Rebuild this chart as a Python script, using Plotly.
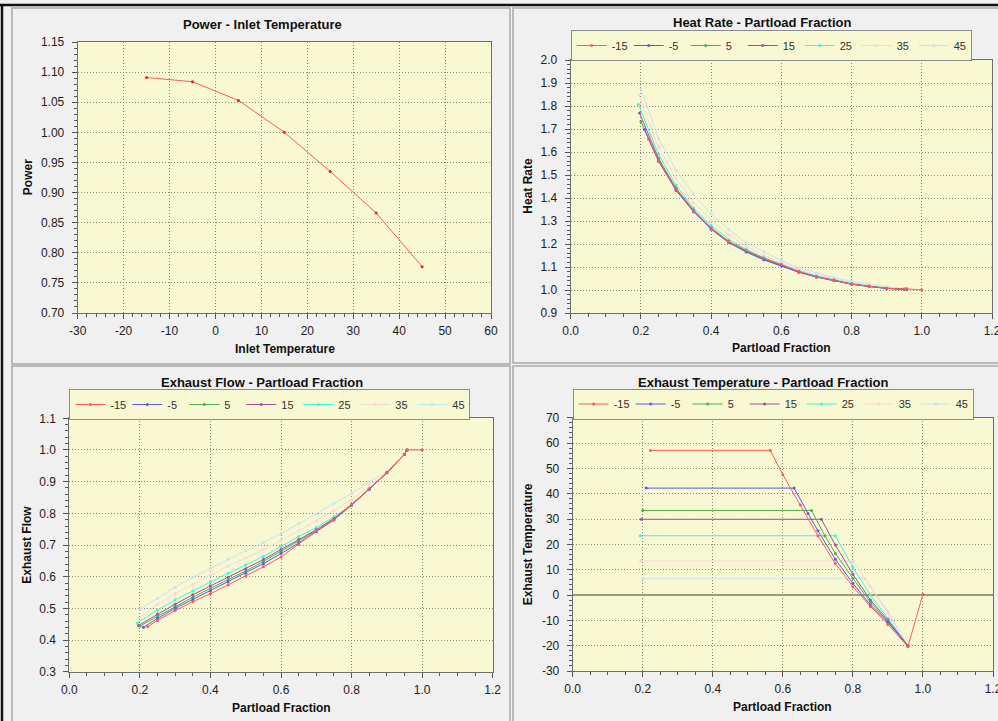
import plotly.graph_objects as go

W, H = 998, 721

# ---------------- data ----------------
series_labels = ["-15", "-5", "5", "15", "25", "35", "45"]
series_colors = ["#ff5a5a", "#5a5aee", "#4caf4c", "#a050a0", "#3ff5dc", "#ffd2da", "#c6e4ef"]

# Power vs inlet temperature
inlet_temp = [-15, -5, 5, 15, 25, 35, 45]
power = [1.091, 1.084, 1.053, 1.000, 0.935, 0.866, 0.777]

# shared partload grid (start point per series is prepended, full-load point appended)
load_grid = [0.25, 0.30, 0.35, 0.40, 0.45, 0.50, 0.55, 0.60, 0.65, 0.70, 0.75, 0.80, 0.85, 0.90, 0.95]
start_load = [0.222, 0.210, 0.200, 0.196, 0.193, 0.194, 0.200]
full_load = 0.957
rated_load = 1.0

# Heat rate (start, grid..., full load [, rated for -15])
hr_m15 = [1.655, 1.563, 1.437, 1.344, 1.268, 1.210, 1.172, 1.138, 1.111, 1.080, 1.058, 1.042, 1.026, 1.016, 1.008, 1.004, 1.005, 1.000]
hr_m5 = [1.698, 1.560, 1.433, 1.340, 1.264, 1.206, 1.165, 1.131, 1.104, 1.077, 1.056, 1.041, 1.025, 1.015, 1.007, 1.003, 1.003]
hr_5 = [1.733, 1.566, 1.438, 1.344, 1.267, 1.209, 1.168, 1.133, 1.106, 1.078, 1.057, 1.042, 1.026, 1.016, 1.007, 1.003, 1.003]
hr_15 = [1.770, 1.572, 1.442, 1.347, 1.270, 1.211, 1.170, 1.135, 1.107, 1.079, 1.058, 1.042, 1.026, 1.016, 1.007, 1.003, 1.003]
hr_25 = [1.807, 1.590, 1.455, 1.356, 1.280, 1.220, 1.177, 1.141, 1.111, 1.083, 1.061, 1.045, 1.028, 1.017, 1.008, 1.003, 1.003]
hr_35 = [1.848, 1.620, 1.485, 1.380, 1.303, 1.240, 1.190, 1.152, 1.118, 1.088, 1.066, 1.048, 1.032, 1.020, 1.010, 1.004, 1.003]
hr_45 = [1.874, 1.659, 1.521, 1.415, 1.331, 1.263, 1.206, 1.166, 1.128, 1.096, 1.074, 1.054, 1.038, 1.026, 1.015, 1.006, 1.004]

# Exhaust flow (start, grid..., full load [, rated for -15])
ef_m15 = [0.442, 0.462, 0.493, 0.521, 0.546, 0.574, 0.601, 0.631, 0.662, 0.702, 0.744, 0.780, 0.828, 0.877, 0.929, 0.986, 1.000, 1.000]
ef_m5 = [0.440, 0.468, 0.500, 0.528, 0.555, 0.583, 0.611, 0.641, 0.673, 0.706, 0.742, 0.779, 0.826, 0.876, 0.928, 0.986, 1.000]
ef_5 = [0.444, 0.475, 0.506, 0.535, 0.563, 0.590, 0.618, 0.648, 0.680, 0.711, 0.745, 0.781, 0.826, 0.876, 0.928, 0.986, 1.000]
ef_15 = [0.446, 0.482, 0.513, 0.543, 0.571, 0.598, 0.625, 0.654, 0.686, 0.717, 0.748, 0.784, 0.827, 0.877, 0.928, 0.986, 1.000]
ef_25 = [0.454, 0.495, 0.527, 0.555, 0.584, 0.611, 0.637, 0.664, 0.695, 0.727, 0.755, 0.789, 0.826, 0.877, 0.929, 0.987, 1.000]
ef_35 = [0.468, 0.512, 0.547, 0.576, 0.605, 0.633, 0.659, 0.686, 0.714, 0.745, 0.776, 0.809, 0.843, 0.885, 0.930, 0.988, 1.000]
ef_45 = [0.497, 0.532, 0.567, 0.598, 0.626, 0.656, 0.682, 0.708, 0.736, 0.767, 0.798, 0.831, 0.863, 0.898, 0.932, 0.989, 1.000]

# Exhaust temperature (own load points per series)
et_x_m15 = [0.222, 0.564, 0.60, 0.65, 0.70, 0.75, 0.80, 0.85, 0.90, 0.957, 1.0]
et_y_m15 = [57.1, 57.1, 47.5, 35.5, 23.4, 12.4, 3.3, -4.5, -11.6, -20.4, 0.3]
et_x_m5 = [0.210, 0.632, 0.672, 0.70, 0.75, 0.80, 0.85, 0.90, 0.957]
et_y_m5 = [42.2, 42.2, 32.2, 25.4, 14.1, 4.6, -4.0, -10.8, -20.0]
et_x_5 = [0.200, 0.682, 0.72, 0.75, 0.80, 0.85, 0.90, 0.957]
et_y_5 = [33.4, 33.4, 23.4, 16.4, 6.6, -2.9, -10.5, -20.0]
et_x_15 = [0.196, 0.710, 0.75, 0.80, 0.85, 0.90, 0.957]
et_y_15 = [29.9, 29.9, 19.7, 8.2, -2.0, -9.9, -20.0]
et_x_25 = [0.193, 0.750, 0.80, 0.85, 0.90, 0.957]
et_y_25 = [23.4, 23.4, 10.9, 0.0, -9.2, -20.0]
et_x_35 = [0.194, 0.800, 0.85, 0.90, 0.957]
et_y_35 = [13.4, 13.4, 3.3, -7.2, -20.0]
et_x_45 = [0.200, 0.834, 0.90, 0.957]
et_y_45 = [6.6, 6.6, -6.5, -20.0]

# tick values and labels
temp_ticks = [-30, -20, -10, 0, 10, 20, 30, 40, 50, 60]
temp_tick_text = ["-30", "-20", "-10", "0", "10", "20", "30", "40", "50", "60"]
power_ticks = [0.70, 0.75, 0.80, 0.85, 0.90, 0.95, 1.00, 1.05, 1.10, 1.15]
power_tick_text = ["0.70", "0.75", "0.80", "0.85", "0.90", "0.95", "1.00", "1.05", "1.10", "1.15"]
load_ticks = [0.0, 0.2, 0.4, 0.6, 0.8, 1.0, 1.2]
load_tick_text = ["0.0", "0.2", "0.4", "0.6", "0.8", "1.0", "1.2"]
hr_ticks = [0.9, 1.0, 1.1, 1.2, 1.3, 1.4, 1.5, 1.6, 1.7, 1.8, 1.9, 2.0]
hr_tick_text = ["0.9", "1.0", "1.1", "1.2", "1.3", "1.4", "1.5", "1.6", "1.7", "1.8", "1.9", "2.0"]
ef_ticks = [0.3, 0.4, 0.5, 0.6, 0.7, 0.8, 0.9, 1.0, 1.1]
ef_tick_text = ["0.3", "0.4", "0.5", "0.6", "0.7", "0.8", "0.9", "1.0", "1.1"]
et_ticks = [-30, -20, -10, 0, 10, 20, 30, 40, 50, 60, 70]
et_tick_text = ["-30", "-20", "-10", "0", "10", "20", "30", "40", "50", "60", "70"]

# ---------------- helpers ----------------
def px(x):
    return x / W


def py(y):
    return 1 - y / H


FONT = "Liberation Sans, Arial, sans-serif"
PLOT_BG = "#f8f8d2"
PAGE_BG = "#f0f0f0"


def load_x(i):
    xs = [start_load[i]] + load_grid + [full_load]
    if i == 0:
        xs = xs + [rated_load]
    return xs


def axis(domain, rng, tickvals, ticktext, minor, anchor, label_gap):
    return dict(
        domain=domain, range=rng, autorange=False, automargin=False,
        tickmode="array", tickvals=tickvals, ticktext=ticktext,
        ticklabeloverflow="allow",
        showgrid=True, gridcolor="#8a8a7a", griddash="1px,2px", gridwidth=1,
        showline=True, linecolor="#6e6e6e", linewidth=1, mirror=True,
        ticks="outside", ticklen=5, tickcolor="#555555", tickwidth=1,
        ticklabelstandoff=label_gap,
        minor=dict(tickmode="linear", tick0=rng[0], dtick=minor, ticks="outside",
                   ticklen=3, tickcolor="#555555", showgrid=False),
        zeroline=False, anchor=anchor,
        tickfont=dict(family=FONT, size=12, color="#222222"),
        fixedrange=True,
    )


fig = go.Figure()

# Panel 1: power vs inlet temperature
fig.add_trace(go.Scatter(
    x=inlet_temp, y=power, mode="lines+markers", xaxis="x", yaxis="y",
    line=dict(color="#ff5a5a", width=1), marker=dict(color="#ee2020", size=3),
    showlegend=False,
))

hr_all = [hr_m15, hr_m5, hr_5, hr_15, hr_25, hr_35, hr_45]
ef_all = [ef_m15, ef_m5, ef_5, ef_15, ef_25, ef_35, ef_45]
et_x_all = [et_x_m15, et_x_m5, et_x_5, et_x_15, et_x_25, et_x_35, et_x_45]
et_y_all = [et_y_m15, et_y_m5, et_y_5, et_y_15, et_y_25, et_y_35, et_y_45]

panels = [
    ("x2", "y2", "legend", lambda i: (load_x(i), hr_all[i])),
    ("x3", "y3", "legend2", lambda i: (load_x(i), ef_all[i])),
    ("x4", "y4", "legend3", lambda i: (et_x_all[i], et_y_all[i])),
]

for xa, ya, lg, getter in panels:
    for i in reversed(range(len(series_labels))):
        xs, ys = getter(i)
        fig.add_trace(go.Scatter(
            x=xs, y=ys, mode="lines+markers", xaxis=xa, yaxis=ya,
            name=series_labels[i], legend=lg, legendrank=i + 1,
            line=dict(color=series_colors[i], width=1),
            marker=dict(color=series_colors[i], size=3),
        ))

legend_style = dict(
    orientation="h", xanchor="left", yanchor="middle", xref="paper", yref="paper",
    bgcolor=PLOT_BG, bordercolor="#8c8c8c", borderwidth=1,
    font=dict(family=FONT, size=11, color="#333333"),
    entrywidth=12, entrywidthmode="pixels", itemwidth=30,
    traceorder="normal",
)

layout = dict(
    width=W, height=H, autosize=False,
    margin=dict(l=0, r=0, t=0, b=0, pad=0, autoexpand=False),
    paper_bgcolor=PAGE_BG, plot_bgcolor=PLOT_BG,
    font=dict(family=FONT, size=12, color="#222222"),
    xaxis=axis([px(77.7), px(491)], [-30, 60], temp_ticks, temp_tick_text, 2, "y", 2),
    yaxis=axis([py(313), py(42)], [0.70, 1.15], power_ticks, power_tick_text, 0.01, "x", 5),
    xaxis2=axis([px(570.7), px(992)], [0, 1.2], load_ticks, load_tick_text, 0.05, "y2", 2),
    yaxis2=axis([py(313), py(60)], [0.9, 2.0], hr_ticks, hr_tick_text, 0.02, "x2", 5),
    xaxis3=axis([px(69.3), px(492.7)], [0, 1.2], load_ticks, load_tick_text, 0.05, "y3", 2),
    yaxis3=axis([py(671.7), py(418.3)], [0.3, 1.1], ef_ticks, ef_tick_text, 0.02, "x3", 5),
    xaxis4=axis([px(572.7), px(993)], [0, 1.2], load_ticks, load_tick_text, 0.05, "y4", 2),
    yaxis4=axis([py(671), py(417.7)], [-30, 70], et_ticks, et_tick_text, 2, "x4", 5),
    legend=dict(legend_style, x=px(570.7), y=py(45.5)),
    legend2=dict(legend_style, x=px(69.3), y=py(404.5)),
    legend3=dict(legend_style, x=px(572.7), y=py(404)),
    showlegend=True,
)
fig.update_layout(**layout)
fig.update_layout(yaxis4=dict(zeroline=True, zerolinecolor="#9a9a80", zerolinewidth=1.5))

# Panel titles
titles = [
    ("Power - Inlet Temperature", 262, 25),
    ("Heat Rate - Partload Fraction", 762, 23),
    ("Exhaust Flow - Partload Fraction", 262, 382.5),
    ("Exhaust Temperature - Partload Fraction", 763, 382.3),
]
for text, cx, cy in titles:
    fig.add_annotation(
        text=text, x=px(cx), y=py(cy), xref="paper", yref="paper",
        xanchor="center", yanchor="middle", showarrow=False,
        font=dict(family=FONT, size=13, color="#111111", weight="bold"),
    )

# Axis titles
axis_titles = [
    ("Inlet Temperature", 284.5, 349, 0),
    ("Power", 27.7, 177.5, -90),
    ("Partload Fraction", 781, 348.3, 0),
    ("Heat Rate", 527.7, 186, -90),
    ("Partload Fraction", 281, 707.7, 0),
    ("Exhaust Flow", 26.7, 545, -90),
    ("Partload Fraction", 782.7, 707.3, 0),
    ("Exhaust Temperature", 528.3, 544, -90),
]
for text, cx, cy, ang in axis_titles:
    fig.add_annotation(
        text=text, x=px(cx), y=py(cy), xref="paper", yref="paper",
        xanchor="center", yanchor="middle", showarrow=False, textangle=ang,
        font=dict(family=FONT, size=12, color="#111111", weight="bold"),
    )

# Panel frames and outer window edge
frames = [
    (12, 8, 510, 364),
    (513, 8, 1005, 363),
    (12, 366, 510, 730),
    (513, 366, 1005, 730),
]
for x0, y0, x1, y1 in frames:
    fig.add_shape(type="rect", xref="paper", yref="paper",
                  x0=px(x0), x1=px(x1), y0=py(y0), y1=py(y1),
                  line=dict(color="#a8a8a8", width=1.5), layer="below")
fig.add_shape(type="line", xref="paper", yref="paper", x0=0, x1=1, y0=py(5), y1=py(5),
              line=dict(color="#111111", width=2.5))
fig.add_shape(type="line", xref="paper", yref="paper", x0=px(2), x1=px(2), y0=0, y1=py(5),
              line=dict(color="#111111", width=2.5))

fig.write_html("out.html")
